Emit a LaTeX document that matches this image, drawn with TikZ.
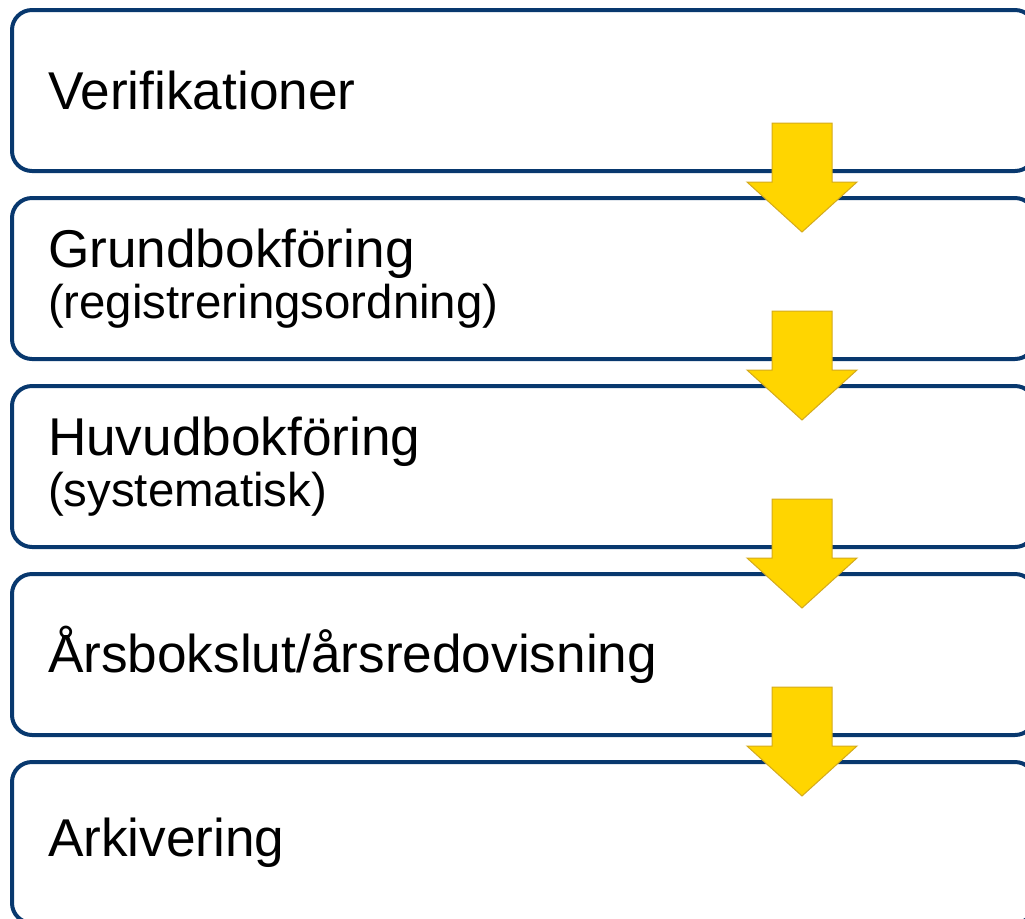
\documentclass[tikz,border=0pt]{standalone}
\usepackage{fontspec}
\setmainfont{Liberation Sans}
\usetikzlibrary{calc}

\definecolor{boxblue}{RGB}{8,56,110}
\definecolor{arrowgold}{RGB}{255,213,0}
\definecolor{arrowedge}{RGB}{212,170,28}

\tikzset{
  stage/.style={draw=boxblue, line width=2pt, rounded corners=10pt, outer sep=0pt,
    minimum width=511.5pt, minimum height=80.5pt, inner xsep=18pt,
    text width=475.5pt, align=left, font=\fontsize{26.6}{25.5}\selectfont},
  downarrow/.style={fill=arrowgold, draw=arrowedge, line width=0.5pt}
}
\newcommand{\subline}[1]{{\fontsize{23.7}{25.5}\selectfont #1}}

\begin{document}
\begin{tikzpicture}[x=0.5pt,y=-0.5pt]
    \useasboundingbox (0,0) rectangle (1025,918);
    \clip (0,0) rectangle (1025,918);
    % the five stages
    \node[stage] (verif) at (523.5,90.5) {Verifikationer};
    \node[stage] (grund) at (523.5,278.5) {Grundbokföring\\\subline{(registreringsordning)}};
    \node[stage] (huvud) at (523.5,466.5) {Huvudbokföring\\\subline{(systematisk)}};
    \node[stage] (bokslut) at (523.5,654.5) {Årsbokslut/årsredovisning};
    \node[stage] (arkiv) at (523.5,842.5) {Arkivering};
    % yellow block arrows between them
    \foreach \a/\b in {verif/grund, grund/huvud, huvud/bokslut, bokslut/arkiv}
        \draw[downarrow] ($(\a.south east)+(-263,-48)$) -- ++(0,59) -- ++(-25,0)
            -- ($(\b.north east)+(-233,34)$) -- ++(55,-50) -- ++(-25,0) -- ++(0,-59) -- cycle;
\end{tikzpicture}
\end{document}
